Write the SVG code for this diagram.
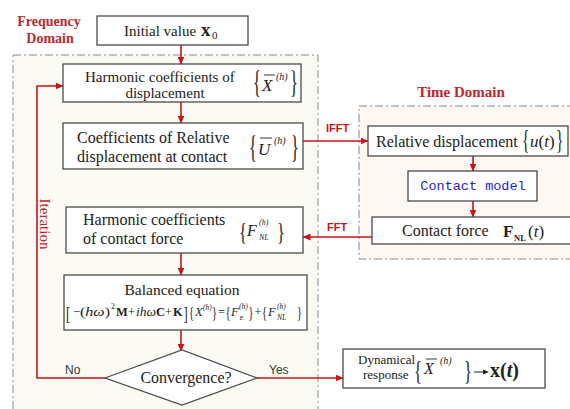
<svg xmlns="http://www.w3.org/2000/svg" width="570" height="409" viewBox="0 0 570 409">
<defs>
<marker id="ah" markerWidth="8" markerHeight="7" refX="7.5" refY="3.5" orient="auto" markerUnits="userSpaceOnUse">
<path d="M0,0 L8,3.5 L0,7 Z" fill="#c8141b"/>
</marker>
<style>
.t{font-family:"Liberation Serif","Times New Roman",serif;fill:#222}
.i{font-style:italic}
.b{font-weight:bold}
.box{fill:#fff;stroke:#4a4a4a;stroke-width:1.3}
.region{stroke:#8a8a8a;stroke-width:1;stroke-dasharray:8 3 2 3}
.ar{stroke:#c8141b;stroke-width:1.6;fill:none}
.lab{font-family:"Liberation Sans",Arial,sans-serif;font-weight:bold;font-size:11px;fill:#c8141b}
.yn{font-family:"Liberation Sans",Arial,sans-serif;font-size:12px;fill:#333}
.red{font-family:"Liberation Serif","Times New Roman",serif;fill:#c0272d}
.brc{font-family:"Liberation Serif","Times New Roman",serif;font-size:22px;fill:#222}
.sb{font-family:"Liberation Serif","Times New Roman",serif;font-size:16px;fill:#222}
.ov{stroke:#222;stroke-width:0.9}
</style>
</defs>
<rect width="570" height="409" fill="#fff"/>
<!-- regions -->
<g id="frequency-domain">
<rect class="region" x="13" y="55" width="305" height="360" fill="#fbfbf4"/>
<text class="red b" font-size="14" x="49" y="26" text-anchor="middle">Frequency</text>
<text class="red b" font-size="14" x="50" y="43" text-anchor="middle">Domain</text>
</g>
<g id="time-domain">
<rect class="region" x="359" y="106" width="215" height="153" fill="#fdf8f4"/>
<text class="red b" font-size="15" x="461" y="97" text-anchor="middle">Time Domain</text>
</g>

<!-- connectors -->
<g id="connectors">
<line class="ar" x1="181" y1="45" x2="181" y2="64" marker-end="url(#ah)"/>
<line class="ar" x1="181" y1="102" x2="181" y2="123" marker-end="url(#ah)"/>
<line class="ar" x1="303" y1="141" x2="368" y2="141" marker-end="url(#ah)"/>
<line class="ar" x1="473" y1="156" x2="473" y2="171" marker-end="url(#ah)"/>
<line class="ar" x1="473" y1="201" x2="473" y2="217" marker-end="url(#ah)"/>
<line class="ar" x1="372" y1="237" x2="303" y2="237" marker-end="url(#ah)"/>
<line class="ar" x1="181" y1="253" x2="181" y2="275" marker-end="url(#ah)"/>
<line class="ar" x1="181" y1="330" x2="181" y2="351" marker-end="url(#ah)"/>
<polyline class="ar" points="105,378 37,378 37,86 63,86" marker-end="url(#ah)"/>
<line class="ar" x1="257" y1="378" x2="343" y2="378" marker-end="url(#ah)"/>
<text class="lab" x="326" y="132">IFFT</text>
<text class="lab" x="327" y="231">FFT</text>
<text class="yn" x="65" y="374">No</text>
<text class="yn" x="269" y="374">Yes</text>
<text class="red" font-size="15" transform="translate(40,224) rotate(90)" text-anchor="middle">Iteration</text>
</g>

<g id="initial-value">
<rect class="box" x="97" y="16" width="151" height="29"/>
<text class="t" font-size="15" x="124" y="36">Initial value</text>
<text class="t b" font-size="19" x="201" y="36">x</text>
<text class="t" font-size="11" x="212" y="39">0</text>
</g>

<g id="harmonic-displacement">
<rect class="box" x="63" y="64" width="238" height="38"/>
<text class="t" font-size="15" x="85" y="82">Harmonic coefficients of</text>
<text class="t" font-size="15" x="165" y="98" text-anchor="middle">displacement</text>
<text class="brc" transform="translate(253,93) scale(0.75,1.45)">{</text>
<text class="t i" font-size="17" x="262" y="91">X</text>
<line class="ov" x1="264" y1="75" x2="275" y2="75"/>
<text class="t i" font-size="10" x="276" y="80">(h)</text>
<text class="brc" transform="translate(290,93) scale(0.75,1.45)">}</text>
</g>

<g id="relative-coefficients">
<rect class="box" x="63" y="123" width="240" height="46"/>
<text class="t" font-size="16" x="77" y="143">Coefficients of Relative</text>
<text class="t" font-size="16" x="77" y="162">displacement at contact</text>
<text class="brc" transform="translate(249,158) scale(0.75,1.45)">{</text>
<text class="t i" font-size="17" x="258" y="155">U</text>
<line class="ov" x1="260" y1="138" x2="272" y2="138"/>
<text class="t i" font-size="10" x="274" y="144">(h)</text>
<text class="brc" transform="translate(291,158) scale(0.75,1.45)">}</text>
</g>

<g id="contact-force-harmonic">
<rect class="box" x="66" y="207" width="237" height="46"/>
<text class="t" font-size="16" x="83" y="225">Harmonic coefficients</text>
<text class="t" font-size="16" x="83" y="244">of contact force</text>
<text class="brc" transform="translate(239,240) scale(0.75,1.15)">{</text>
<text class="t i" font-size="16" x="247" y="236">F</text>
<text class="t i" font-size="8" x="259" y="225">(h)</text>
<text class="t i" font-size="8" x="259" y="240">NL</text>
<text class="brc" transform="translate(277,240) scale(0.75,1.15)">}</text>
</g>

<g id="balanced-equation">
<rect class="box" x="64" y="275" width="243" height="55"/>
<text class="t" font-size="15.5" x="182" y="295" text-anchor="middle">Balanced equation</text>
<g font-size="12.5">
<text class="sb" font-size="17" transform="translate(66,320) scale(0.8,1.15)">[</text>
<text class="t" x="73" y="316">−</text>
<text class="t" x="80" y="316" textLength="30" lengthAdjust="spacingAndGlyphs">(<tspan class="i">hω</tspan>)</text>
<text class="t" font-size="7.5" x="111" y="309">2</text>
<text class="t b" x="116" y="316">M</text>
<text class="t" x="128" y="316">+</text>
<text class="t i" x="136" y="316" textLength="20" lengthAdjust="spacingAndGlyphs">ihω</text>
<text class="t b" x="156" y="316">C</text>
<text class="t" x="165" y="316">+</text>
<text class="t b" x="173" y="316">K</text>
<text class="sb" font-size="17" transform="translate(183.5,320) scale(0.8,1.15)">]</text>
<text class="sb" transform="translate(189,319) scale(0.65,1.1)">{</text>
<text class="t i" x="195" y="316">X</text>
<text class="t i" font-size="7.5" x="203" y="310">(h)</text>
<text class="sb" transform="translate(212,319) scale(0.65,1.1)">}</text>
<text class="t" x="218" y="316">=</text>
<text class="sb" transform="translate(225.5,319) scale(0.65,1.1)">{</text>
<text class="t i" x="231" y="316">F</text>
<text class="t i" font-size="7.5" x="239" y="309">(h)</text>
<text class="t i" font-size="7" x="239.5" y="320">E</text>
<text class="sb" transform="translate(248.5,319) scale(0.65,1.1)">}</text>
<text class="t" x="254.5" y="316">+</text>
<text class="sb" transform="translate(262,319) scale(0.65,1.1)">{</text>
<text class="t i" x="268" y="316">F</text>
<text class="t i" font-size="7.5" x="277" y="309">(h)</text>
<text class="t i" font-size="7.5" x="277" y="320">NL</text>
<text class="sb" transform="translate(297,319) scale(0.65,1.1)">}</text>
</g>
</g>

<g id="convergence">
<polygon points="105,378 182,350 257,378 182,405" fill="#fff" stroke="#4a4a4a" stroke-width="1.3"/>
<text class="t" font-size="16" x="186" y="383" text-anchor="middle">Convergence?</text>
</g>

<g id="dynamical-response">
<rect class="box" x="343" y="349" width="202" height="39"/>
<text class="t" font-size="13" x="358" y="364">Dynamical</text>
<text class="t" font-size="13" x="363" y="379">response</text>
<text class="brc" transform="translate(414,380) scale(0.75,1.2)">{</text>
<text class="t i" font-size="16" x="424" y="374">X</text>
<line class="ov" x1="426" y1="359" x2="437" y2="359"/>
<text class="t i" font-size="10" x="440" y="364">(h)</text>
<text class="brc" transform="translate(464,380) scale(0.75,1.2)">}</text>
<line x1="474" y1="372" x2="486" y2="372" stroke="#222" stroke-width="1"/>
<path d="M483,369.5 L489,372 L483,374.5 Z" fill="#222"/>
<text class="t b" font-size="20" x="490" y="377">x(<tspan class="i">t</tspan>)</text>
</g>

<g id="relative-displacement">
<rect class="box" x="368" y="126" width="200" height="30"/>
<text class="t" font-size="16" x="376" y="147">Relative  displacement</text>
<text class="brc" transform="translate(522,149) scale(0.7,1.2)">{</text>
<text class="t" font-size="17" x="530" y="147"><tspan class="i">u</tspan>(<tspan class="i">t</tspan>)</text>
<text class="brc" transform="translate(556,149) scale(0.7,1.2)">}</text>
</g>

<g id="contact-model">
<rect class="box" x="408" y="171" width="129" height="30"/>
<text x="473" y="190" text-anchor="middle" font-family="'Liberation Mono','Courier New',monospace" font-size="13.5" fill="#1d1de0">Contact model</text>
</g>

<g id="contact-force">
<rect class="box" x="372" y="217" width="200" height="27"/>
<text class="t" font-size="16" x="402" y="236">Contact force</text>
<text class="t b" font-size="17" x="503" y="237">F</text>
<text class="t b" font-size="8.5" x="514" y="241">NL</text>
<text class="t" font-size="17" x="528" y="237">(<tspan class="i">t</tspan>)</text>
</g>
</svg>
